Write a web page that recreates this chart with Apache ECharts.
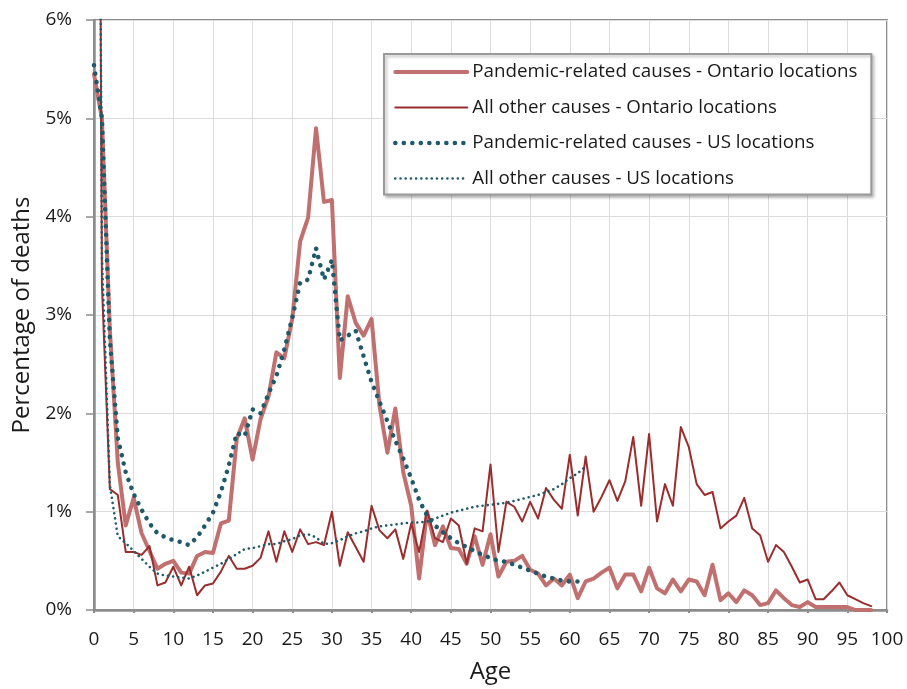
<!DOCTYPE html>
<html><head><meta charset="utf-8">
<script src="https://cdn.jsdelivr.net/npm/echarts@6/dist/echarts.min.js"></script>
<style>html,body{margin:0;padding:0;background:#fff}#c{width:907px;height:689px}</style>
</head><body><div id="c"></div>
<script>
// Ages (x values)
const agesOntario = [0,1,2,3,4,5,6,7,8,9,10,11,12,13,14,15,16,17,18,19,20,21,22,23,24,25,26,27,28,29,30,31,32,33,34,35,36,37,38,39,40,41,42,43,44,45,46,47,48,49,50,51,52,53,54,55,56,57,58,59,60,61,62,63,64,65,66,67,68,69,70,71,72,73,74,75,76,77,78,79,80,81,82,83,84,85,86,87,88,89,90,91,92,93,94,95,96,97,98];
const agesUS = [0,1,2,3,4,5,6,7,8,9,10,11,12,13,14,15,16,17,18,19,20,21,22,23,24,25,26,27,28,29,30,31,32,33,34,35,36,37,38,39,40,41,42,43,44,45,46,47,48,49,50,51,52,53,54,55,56,57,58,59,60,61,62];

// Percentage of deaths
const pandemicOntario = [5.45,5.0,2.85,1.5,0.86,1.14,0.78,0.6,0.42,0.47,0.5,0.38,0.37,0.55,0.59,0.58,0.88,0.91,1.74,1.95,1.53,1.94,2.17,2.62,2.56,2.96,3.75,3.99,4.9,4.15,4.17,2.36,3.19,2.92,2.79,2.96,2.08,1.6,2.05,1.4,1.06,0.32,1.0,0.66,0.85,0.63,0.62,0.47,0.75,0.46,0.77,0.34,0.49,0.5,0.55,0.41,0.37,0.25,0.32,0.25,0.36,0.12,0.29,0.32,0.38,0.43,0.22,0.36,0.36,0.19,0.43,0.22,0.17,0.31,0.19,0.31,0.29,0.15,0.46,0.10,0.17,0.08,0.2,0.15,0.05,0.07,0.2,0.12,0.05,0.03,0.08,0.03,0.03,0.03,0.03,0.03,0.0,0.0,0.0];
const otherOntario = [20,3.3,1.23,1.17,0.59,0.59,0.56,0.65,0.25,0.28,0.44,0.25,0.44,0.15,0.25,0.27,0.39,0.55,0.42,0.42,0.45,0.53,0.80,0.49,0.80,0.59,0.82,0.67,0.69,0.66,1.0,0.45,0.79,0.64,0.49,1.06,0.81,0.73,0.82,0.52,0.88,0.59,1.01,0.73,0.69,0.93,0.86,0.47,0.83,0.80,1.48,0.59,1.10,1.05,0.90,1.10,0.93,1.24,1.12,1.03,1.58,0.96,1.56,1.00,1.15,1.32,1.11,1.31,1.76,1.06,1.79,0.90,1.28,1.06,1.86,1.66,1.28,1.17,1.2,0.83,0.9,0.96,1.14,0.83,0.76,0.49,0.66,0.59,0.44,0.28,0.31,0.11,0.11,0.19,0.28,0.15,0.11,0.07,0.04];
const pandemicUS = [5.54,5.0,2.75,1.75,1.40,1.18,1.02,0.88,0.78,0.74,0.71,0.69,0.66,0.74,0.86,0.99,1.2,1.47,1.8,1.77,2.04,2.0,2.2,2.38,2.65,2.97,3.33,3.36,3.68,3.36,3.56,2.74,2.79,2.84,2.58,2.32,2.12,1.92,1.72,1.54,1.34,1.12,0.96,0.86,0.79,0.73,0.68,0.64,0.6,0.56,0.53,0.5,0.49,0.46,0.43,0.4,0.37,0.34,0.32,0.3,0.29,0.29,0.28];
const otherUS = [20,3.6,1.27,0.75,0.68,0.6,0.52,0.44,0.37,0.35,0.34,0.33,0.32,0.35,0.39,0.43,0.47,0.52,0.57,0.62,0.63,0.65,0.67,0.67,0.7,0.72,0.76,0.77,0.74,0.67,0.68,0.71,0.75,0.78,0.8,0.83,0.85,0.86,0.87,0.88,0.89,0.89,0.9,0.93,0.96,0.99,1.01,1.03,1.05,1.06,1.07,1.08,1.09,1.11,1.13,1.15,1.17,1.2,1.23,1.28,1.34,1.39,1.46];

const seriesNames = ['Pandemic-related causes - Ontario locations','All other causes - Ontario locations','Pandemic-related causes - US locations','All other causes - US locations'];
const yTickLabels = ['0%','1%','2%','3%','4%','5%','6%'];
const xTitle = 'Age';
const yTitle = 'Percentage of deaths';

const pair = (xs, ys) => xs.map((x, i) => [x, ys[i]]);

const FONT = 'Open Sans';
const styles = [
  {color:'#C0706E', width:4, type:'solid', cap:'round', join:'round'},
  {color:'#9A2D2D', width:2, type:'solid', cap:'round', join:'round'},
  {color:'#1F5A6A', width:4.6, type:[0.01,8.5], cap:'round', join:'round'},
  {color:'#1F5A6A', width:2.6, type:[0.01,5.2], cap:'round', join:'round'}
];
const datas = [pair(agesOntario,pandemicOntario), pair(agesOntario,otherOntario), pair(agesUS,pandemicUS), pair(agesUS,otherUS)];

const chart = echarts.init(document.getElementById('c'), null, {renderer:'canvas'});
chart.setOption({
  animation:false,
  backgroundColor:'#fff',
  grid:{left:94, right:20, top:20, bottom:77, show:true, borderColor:'#8c8c8c', borderWidth:2, containLabel:false},
  xAxis:{
    type:'value', min:0, max:100, interval:5,
    name:xTitle, nameLocation:'middle', nameGap:50,
    nameTextStyle:{fontFamily:FONT, fontSize:24, color:'#1a1a1a'},
    axisLine:{show:true, lineStyle:{color:'#8c8c8c', width:2.5}},
    axisTick:{show:true, length:3, lineStyle:{color:'#8c8c8c', width:2}},
    axisLabel:{fontFamily:FONT, fontSize:19, color:'#1a1a1a', margin:20},
    splitLine:{show:true, lineStyle:{color:'#dcdcdc', width:1}}
  },
  yAxis:{
    type:'value', min:0, max:6, interval:1,
    name:yTitle, nameLocation:'middle', nameGap:58, nameRotate:90,
    nameTextStyle:{fontFamily:FONT, fontSize:24, color:'#1a1a1a'},
    axisLine:{show:true, lineStyle:{color:'#8c8c8c', width:2.5}},
    axisTick:{show:true, length:8, lineStyle:{color:'#8c8c8c', width:1.5}},
    axisLabel:{fontFamily:FONT, fontSize:19, color:'#1a1a1a', margin:22, formatter:(v)=>yTickLabels[Math.round(v)]},
    splitLine:{show:true, lineStyle:{color:'#dcdcdc', width:1}}
  },
  legend:{
    orient:'vertical', left:384, top:54, padding:[7,11,5,9], itemGap:13.5,
    itemWidth:72, itemHeight:14, selectedMode:false,
    backgroundColor:'#fff', borderColor:'#9a9a9a', borderWidth:2,
    shadowColor:'rgba(0,0,0,0.25)', shadowBlur:3, shadowOffsetX:2, shadowOffsetY:2,
    textStyle:{fontFamily:FONT, fontSize:18.8, color:'#1a1a1a', lineHeight:22, width:388},
    data: seriesNames.map((n,i)=>({
      name:n,
      itemStyle:{opacity:0, borderWidth:0},
      lineStyle:{color:styles[i].color, width:styles[i].width, type:styles[i].type, cap:styles[i].cap, opacity:1}
    }))
  },
  series: seriesNames.map((n,i)=>({
    name:n, type:'line', data:datas[i], symbol:'none', showSymbol:false, clip:true,
    lineStyle:styles[i], itemStyle:{color:styles[i].color}, z:2+i
  }))
});
</script></body></html>
